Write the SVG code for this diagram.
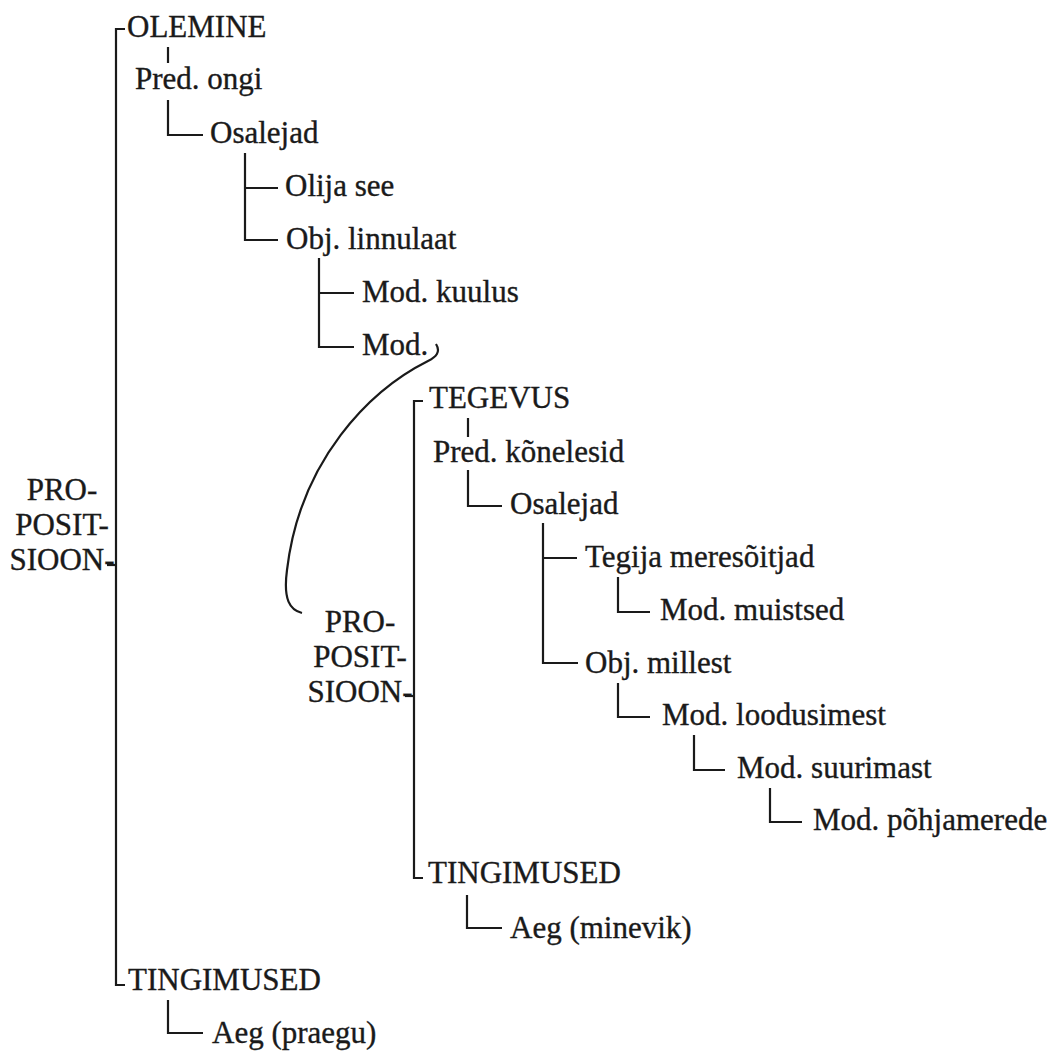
<svg xmlns="http://www.w3.org/2000/svg" width="1058" height="1051" viewBox="0 0 1058 1051">
<style>
text{font-family:"Liberation Serif","Times New Roman",serif;font-size:31px;fill:#1a1a1a;stroke:#1a1a1a;stroke-width:0.35}
.c{text-anchor:middle}
.ln{fill:none;stroke:#1a1a1a;stroke-width:2.2;stroke-linecap:butt;stroke-linejoin:miter}
</style>
<rect width="1058" height="1051" fill="#ffffff"/>
<g id="connectors">
<path class="ln" d="M125 29 L116 29 L116 985 L125 985"/>
<path class="ln" d="M107 565 L116 565"/>
<path class="ln" d="M168 47 L168 63"/>
<path class="ln" d="M168 100 L168 135 L203 135"/>
<path class="ln" d="M245 153 L245 240 L278 240 M245 188 L278 188"/>
<path class="ln" d="M319 258 L319 347 L354 347 M319 293 L354 293"/>
<path class="ln" d="M436 344 C441 352 436 357 428 361 C370 390 300 460 287 570 C283 600 290 610 302 613"/>
<path class="ln" d="M423 401 L414 401 L414 878 L423 878"/>
<path class="ln" d="M405 696 L414 696"/>
<path class="ln" d="M468 418 L468 437"/>
<path class="ln" d="M468 470 L468 506 L502 506"/>
<path class="ln" d="M543 523 L543 663 L578 663 M543 558 L577 558"/>
<path class="ln" d="M618 577 L618 612 L650 612"/>
<path class="ln" d="M618 683 L618 717 L650 717"/>
<path class="ln" d="M694 735 L694 770 L725 770"/>
<path class="ln" d="M770 788 L770 822 L802 822"/>
<path class="ln" d="M467 895 L467 928 L502 928"/>
<path class="ln" d="M168 1000 L168 1033 L203 1033"/>
</g>
<g id="prop1"><text class="c" x="62" y="500">PRO-</text><text class="c" x="62" y="535">POSIT-</text><text class="c" x="62" y="570">SIOON-</text></g>
<g id="olemine"><text x="127" y="37">OLEMINE</text></g>
<g id="pred1"><text x="135" y="89">Pred. ongi</text></g>
<g id="osalejad1"><text x="210" y="143">Osalejad</text></g>
<g id="olija"><text x="285" y="196">Olija see</text></g>
<g id="obj1"><text x="286" y="249">Obj. linnulaat</text></g>
<g id="mod1"><text x="362" y="302">Mod. kuulus</text></g>
<g id="mod2"><text x="362" y="355">Mod.</text></g>
<g id="prop2"><text class="c" x="360" y="632">PRO-</text><text class="c" x="360" y="667">POSIT-</text><text class="c" x="360" y="702">SIOON-</text></g>
<g id="tegevus"><text x="429" y="408">TEGEVUS</text></g>
<g id="pred2"><text x="433" y="462">Pred. kõnelesid</text></g>
<g id="osalejad2"><text x="510" y="514">Osalejad</text></g>
<g id="tegija"><text x="585" y="567">Tegija meresõitjad</text></g>
<g id="muistsed"><text x="660" y="620">Mod. muistsed</text></g>
<g id="obj2"><text x="585" y="673">Obj. millest</text></g>
<g id="loodusimest"><text x="662" y="725">Mod. loodusimest</text></g>
<g id="suurimast"><text x="737" y="778">Mod. suurimast</text></g>
<g id="pohjamerede"><text x="813" y="830">Mod. põhjamerede</text></g>
<g id="tingimused2"><text x="428" y="883">TINGIMUSED</text></g>
<g id="aeg2"><text x="510" y="938">Aeg (minevik)</text></g>
<g id="tingimused1"><text x="128" y="990">TINGIMUSED</text></g>
<g id="aeg1"><text x="212" y="1043">Aeg (praegu)</text></g>
</svg>
